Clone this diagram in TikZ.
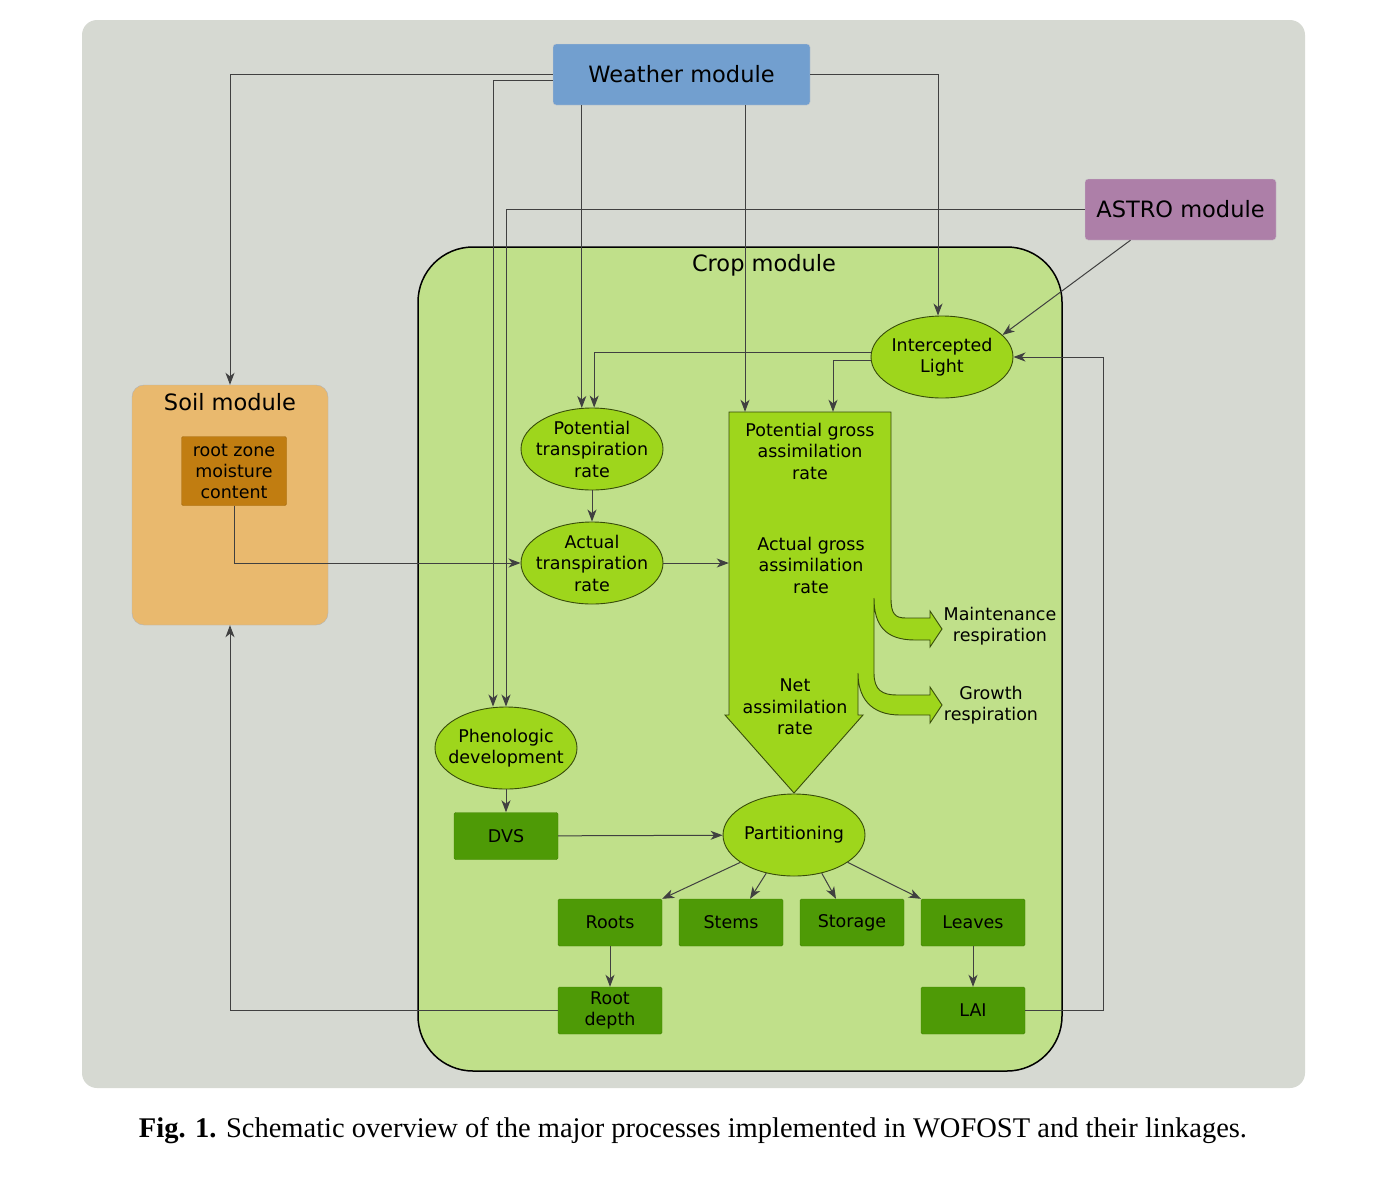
\documentclass[tikz,border=0pt]{standalone}
\usepackage{fontspec}
\setmainfont{DejaVu Sans}
\newfontfamily\capfont{Liberation Serif}
\usetikzlibrary{arrows.meta,positioning,shapes.geometric}

\definecolor{panel}{RGB}{214,217,210}
\definecolor{weatherblue}{RGB}{114,159,207}
\definecolor{astropurple}{RGB}{173,127,168}
\definecolor{soilorange}{RGB}{233,185,110}
\definecolor{soilbrown}{RGB}{193,125,17}
\definecolor{cropgreen}{RGB}{192,224,138}
\definecolor{procgreen}{RGB}{158,214,28}
\definecolor{poolgreen}{RGB}{78,154,6}

\tikzset{
  module/.style={draw=black!20,rounded corners=3pt,minimum height=61pt,inner sep=0pt,font=\fontsize{22.5}{26}\selectfont},
  proc/.style={ellipse,draw=black!65!procgreen,line width=0.9pt,fill=procgreen,minimum width=142pt,minimum height=82pt,inner xsep=-12pt,inner ysep=-9pt,align=center,font=\fontsize{17.5}{21.5}\selectfont},
  pool/.style={draw=poolgreen!85!black,fill=poolgreen,rounded corners=1.5pt,minimum width=104pt,minimum height=47pt,inner sep=0pt,align=center,font=\fontsize{17.5}{21.5}\selectfont},
  txt/.style={align=center,font=\fontsize{17.5}{21.5}\selectfont},
  link/.style={->,draw=black!75,line width=1pt}
}

\begin{document}
\begin{tikzpicture}[x=1pt,y=-1pt,>={Stealth[length=12pt,width=9pt,inset=3.5pt]},node distance=88pt]
\useasboundingbox (0,0) rectangle (1378,1178);
\fill[panel,rounded corners=15pt] (82,20) rectangle (1305,1088);

\node[draw=black,line width=1.5pt,fill=cropgreen,rounded corners=55pt,minimum width=644pt,minimum height=824pt] (crop) at (740,659) {};
\node[font=\fontsize{22.5}{26}\selectfont] (croptitle) at (764,265) {Crop module};

\node[draw=black!30,fill=soilorange,rounded corners=12pt,minimum width=196pt,minimum height=240pt] (soil) at (230,505) {};
\node[below=5pt of soil.north,font=\fontsize{22.5}{26}\selectfont] (soiltitle) {Soil module};
\node[pool,fill=soilbrown,draw=soilbrown!85!black,minimum width=105pt,minimum height=69pt,font=\fontsize{17.5}{21}\selectfont] (rootzone) at (234,471) {root zone\\moisture\\content};

\node[module,fill=weatherblue,minimum width=257pt] (weather) at (681.5,74.5) {Weather module};
\node[module,fill=astropurple,minimum width=191pt] (astro) at (1180.5,209.5) {ASTRO module};

\node[minimum width=162pt,minimum height=303pt,inner sep=0pt] (assim) at (810,563.5) {};
\draw[fill=procgreen,draw=black!65!procgreen,line width=0.9pt]
  (729,412) -- (891,412) -- (891,598) .. controls (891,614) and (895,618) .. (906,618)
  -- (930,618) -- (930,611) -- (942,629) -- (930,647) -- (930,640) -- (915,640)
  .. controls (885,640) and (874,625) .. (874,598) -- (874,673)
  .. controls (874,690) and (882,695) .. (897,695) -- (930,695) -- (930,687) -- (942,705)
  -- (930,723) -- (930,715) -- (900,715) .. controls (870,715) and (858,697) .. (858,673)
  -- (858,715) -- (863,715) -- (794,793) -- (725,715) -- (729,715) -- cycle;
\node[txt] (pgross) at (810,451) {Potential gross\\assimilation\\rate};
\node[txt] (agross) at (811,565) {Actual gross\\assimilation\\rate};
\node[txt] (net) at (795,707) {Net\\assimilation\\rate};
\node[txt] (maint) at (1000,626) {Maintenance\\respiration};
\node[txt] (growth) at (991,705) {Growth\\respiration};

\node[proc] (light) at (942,357) {Intercepted\\Light};
\node[proc] (ptr) at (592,449) {Potential\\transpiration\\rate};
\node[proc] (atr) [below of=ptr,node distance=114pt] {Actual\\transpiration\\rate};
\node[proc] (pheno) at (506,748) {Phenologic\\development};
\node[proc] (part) at (794,835) {Partitioning};

\node[pool] (dvs) [below of=pheno] {DVS};
\node[pool] (roots) at (610,922.5) {Roots};
\node[pool] (stems) [right of=roots,node distance=121pt] {Stems};
\node[pool] (storage) [right of=stems,node distance=121pt] {Storage};
\node[pool] (leaves) [right of=storage,node distance=121pt] {Leaves};
\node[pool] (rootdepth) [below of=roots] {Root\\depth};
\node[pool] (lai) [below of=leaves] {LAI};

\draw[link] (weather.west) -| (soil.north);
\draw[link] ([yshift=-5.5pt]weather.west) -| ([xshift=-13pt]pheno.north);
\draw[link] (astro.west) -| (pheno.north);
\draw[link] (weather.south -| ptr.104) -- (ptr.104);
\draw[link] ([xshift=63.5pt]weather.south) -- ([xshift=-65pt]assim.north);
\draw[link] (weather.east) -| ([xshift=-4pt]light.north);
\draw[link] ([xshift=-50pt]astro.south) -- (light.20);
\draw[link] (light.176) -| (ptr.87);
\draw[link] (light.183) -| ([xshift=23pt]assim.north);
\draw[link] (lai.east) -- ++(78,0) |- (light.east);
\draw[link] (rootdepth.west) -| (soil.south);
\draw[link] (rootzone.south) |- (atr.west);
\draw[link] (ptr) -- (atr);
\draw[link] (atr.east) -- (atr.east -| assim.west);
\draw[link] (pheno) -- (dvs);
\draw[link] (dvs) -- (part);
\draw[link] (part.207) -- (roots.north east);
\draw[link] (part.234) -- ([xshift=19pt]stems.north);
\draw[link] (part.-54) -- ([xshift=-16pt]storage.north);
\draw[link] (part.-27) -- (leaves.north west);
\draw[link] (roots) -- (rootdepth);
\draw[link] (leaves) -- (lai);

\node[font=\capfont\fontsize{28.5}{33}\selectfont] (caption) at (693,1131) {\textbf{Fig. 1.} Schematic overview of the major processes implemented in WOFOST and their linkages.};
\end{tikzpicture}
\end{document}
